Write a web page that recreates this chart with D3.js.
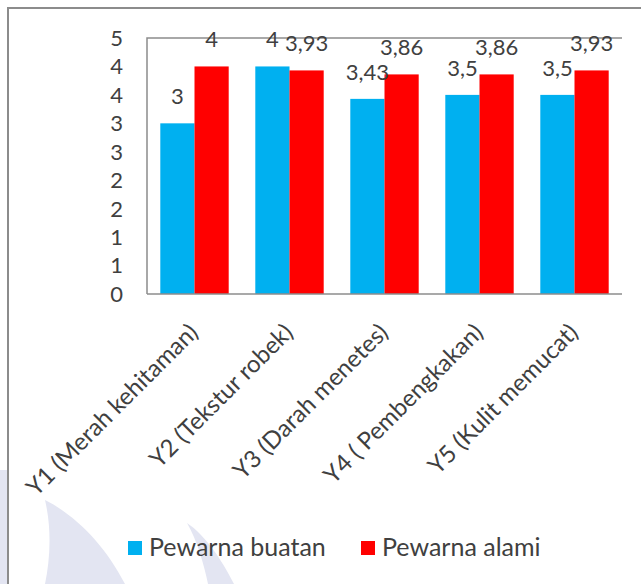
<!DOCTYPE html>
<html lang="en">
<head>
    <meta charset="UTF-8">
    <title>Pewarna buatan vs alami</title>
    <script src="https://cdnjs.cloudflare.com/ajax/libs/d3/7.8.5/d3.min.js"></script>
    <style>
      body { margin: 0; background: #fff; }
      text { font-family: Lato, "Open Sans", sans-serif; fill: #404040; }
    </style>
</head>
<body>
    <div id="chart"></div>

    <script>
        // data
        const categories = ["Y1 (Merah kehitaman)", "Y2 (Tekstur robek)", "Y3 (Darah menetes)", "Y4 ( Pembengkakan)", "Y5 (Kulit memucat)"];
        const seriesNames = ["Pewarna buatan", "Pewarna alami"];
        const buatan = [3, 4, 3.43, 3.5, 3.5];
        const alami = [4, 3.93, 3.86, 3.86, 3.93];
        const buatanLabels = ["3", "4", "3,43", "3,5", "3,5"];
        const alamiLabels = ["4", "3,93", "3,86", "3,86", "3,93"];
        const yTicks = [0, 0.5, 1, 1.5, 2, 2.5, 3, 3.5, 4, 4.5];
        const yTickLabels = ["0", "1", "1", "2", "2", "3", "3", "4", "4", "5"];
        const colors = ["#00b0f0", "#ff0000"];

        const width = 641, height = 584;
        const plot = { left: 147, right: 622, top: 38, bottom: 294 };

        const svg = d3.select("#chart").append("svg")
            .attr("width", width)
            .attr("height", height);

        // faint watermark in the lower left corner
        svg.append("path")
            .attr("d", "M45,500 C75,515 105,545 125,584 L45,584 C50,560 52,530 45,500 Z")
            .attr("fill", "#e3e5f2");
        svg.append("path")
            .attr("d", "M187,523 C205,535 222,560 234,584 L208,584 C204,565 197,540 187,523 Z")
            .attr("fill", "#e3e5f2");
        svg.append("rect")
            .attr("x", 0).attr("y", 470).attr("width", 7).attr("height", 114)
            .attr("fill", "#e3e5f2");

        // outer frame (top and left edges only are visible)
        svg.append("path")
            .attr("d", `M8,${height} V8 H${width}`)
            .attr("fill", "none")
            .attr("stroke", "#8c8c8c")
            .attr("stroke-width", 2);

        const x0 = d3.scaleBand()
            .domain(categories)
            .range([plot.left, plot.right])
            .paddingInner(0.28)
            .paddingOuter(0.14);

        const x1 = d3.scaleBand()
            .domain(seriesNames)
            .range([0, x0.bandwidth()]);

        const y = d3.scaleLinear()
            .domain([0, 4.5])
            .range([plot.bottom, plot.top]);

        // plot area box
        svg.append("path")
            .attr("d", `M${plot.right},${plot.top} H${plot.left} V${plot.bottom}`)
            .attr("fill", "none")
            .attr("stroke", "#8c8c8c")
            .attr("stroke-width", 1.5);

        const rows = categories.map((c, i) => ({
            cat: c,
            vals: [
                { s: seriesNames[0], v: buatan[i], lab: buatanLabels[i], col: colors[0] },
                { s: seriesNames[1], v: alami[i], lab: alamiLabels[i], col: colors[1] }
            ]
        }));

        const groups = svg.selectAll("g.grp")
            .data(rows)
            .join("g")
            .attr("class", "grp")
            .attr("transform", d => `translate(${x0(d.cat)},0)`);

        groups.selectAll("rect")
            .data(d => d.vals)
            .join("rect")
            .attr("x", d => x1(d.s))
            .attr("y", d => y(d.v))
            .attr("width", x1.bandwidth())
            .attr("height", d => y(0) - y(d.v))
            .attr("fill", d => d.col);

        groups.selectAll("text.val")
            .data(d => d.vals)
            .join("text")
            .attr("class", "val")
            .attr("x", d => x1(d.s) + x1.bandwidth() / 2)
            .attr("y", d => y(d.v) - 19)
            .attr("text-anchor", "middle")
            .style("font-size", "22px")
            .text(d => d.lab);

        // x axis line
        svg.append("line")
            .attr("x1", plot.left).attr("x2", plot.right)
            .attr("y1", plot.bottom).attr("y2", plot.bottom)
            .attr("stroke", "#8c8c8c")
            .attr("stroke-width", 1.5);

        // y tick labels
        svg.selectAll("text.ytick")
            .data(yTicks)
            .join("text")
            .attr("class", "ytick")
            .attr("x", 123)
            .attr("y", d => y(d))
            .attr("dy", "0.36em")
            .attr("text-anchor", "end")
            .style("font-size", "22px")
            .text((d, i) => yTickLabels[i]);

        // rotated category labels
        svg.selectAll("text.xcat")
            .data(categories)
            .join("text")
            .attr("class", "xcat")
            .attr("text-anchor", "end")
            .attr("transform", d => `translate(${x0(d) + x0.bandwidth() / 2 + 5},334) rotate(-45)`)
            .style("font-size", "24px")
            .text(d => d);

        // legend
        const legendX = [128, 361];
        const legend = svg.selectAll("g.leg")
            .data(seriesNames)
            .join("g")
            .attr("class", "leg")
            .attr("transform", (d, i) => `translate(${legendX[i]},541)`);
        legend.append("rect")
            .attr("width", 14).attr("height", 14)
            .attr("fill", (d, i) => colors[i]);
        legend.append("text")
            .attr("x", 21)
            .attr("y", 15)
            .style("font-size", "25px")
            .text(d => d);
    </script>
</body>
</html>
